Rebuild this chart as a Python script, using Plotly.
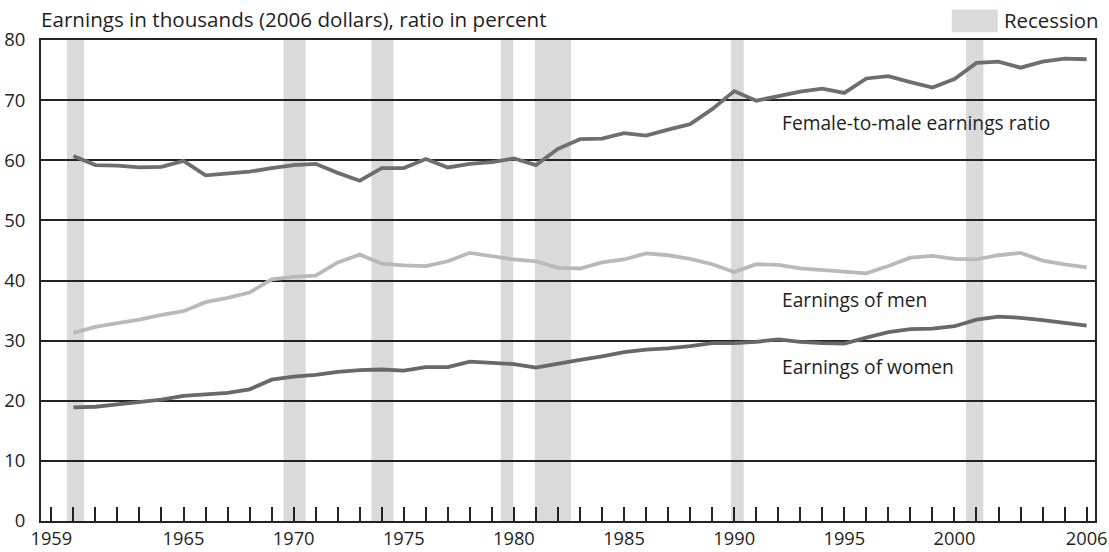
import plotly.graph_objects as go

# ---------------- data ----------------
years = list(range(1960, 2007))

ratio = [60.7, 59.2, 59.1, 58.8, 58.9, 59.9, 57.5, 57.8, 58.1, 58.7, 59.2, 59.4,
         57.9, 56.6, 58.7, 58.7, 60.2, 58.8, 59.4, 59.7, 60.3, 59.2, 61.9,
         63.5, 63.6, 64.5, 64.1, 65.1, 66.0, 68.5, 71.5, 69.9, 70.7, 71.4,
         71.9, 71.2, 73.6, 74.0, 73.0, 72.1, 73.5, 76.2, 76.4, 75.4, 76.4,
         76.9, 76.8]

men = [31.3, 32.3, 32.9, 33.5, 34.3, 34.9, 36.4, 37.1, 38.0, 40.2, 40.6, 40.8,
       43.0, 44.3, 42.8, 42.5, 42.4, 43.2, 44.6, 44.1, 43.5, 43.2, 42.1,
       42.0, 43.0, 43.5, 44.5, 44.2, 43.6, 42.7, 41.4, 42.7, 42.6, 42.0,
       41.7, 41.5, 41.2, 42.4, 43.8, 44.1, 43.6, 43.5, 44.2, 44.6, 43.3,
       42.7, 42.2]

women = [18.9, 19.0, 19.4, 19.8, 20.2, 20.8, 21.0, 21.3, 21.9, 23.5, 24.0, 24.3,
         24.8, 25.1, 25.2, 25.0, 25.6, 25.6, 26.5, 26.3, 26.1, 25.5, 26.2,
         26.8, 27.4, 28.1, 28.5, 28.7, 29.1, 29.6, 29.6, 29.8, 30.2, 29.8,
         29.6, 29.5, 30.5, 31.4, 31.9, 32.0, 32.4, 33.5, 34.0, 33.8, 33.4,
         33.0, 32.5]

recession_start = [1959.71, 1969.54, 1973.53, 1979.40, 1980.95, 1989.86, 2000.52]
recession_end = [1960.48, 1970.55, 1974.53, 1979.97, 1982.59, 1990.43, 2001.31]

x_tick_vals = [1959, 1965, 1970, 1975, 1980, 1985, 1990, 1995, 2000, 2006]
x_tick_text = ["1959", "1965", "1970", "1975", "1980", "1985", "1990", "1995", "2000", "2006"]
y_tick_vals = [0, 10, 20, 30, 40, 50, 60, 70, 80]

title_text = "Earnings in thousands (2006 dollars), ratio in percent"
legend_text = "Recession"
series_labels = ["Female-to-male earnings ratio", "Earnings of men", "Earnings of women"]

# ---------------- styles ----------------
FONT = "Open Sans"
TXT = "#1e1e1e"
BAND = "#dadada"

fig = go.Figure()

for s, e in zip(recession_start, recession_end):
    fig.add_shape(type="rect", xref="x", yref="paper", x0=s, x1=e, y0=0, y1=1,
                  fillcolor=BAND, line_width=0, layer="below")

fig.add_trace(go.Scatter(x=years, y=men, mode="lines",
                         line=dict(color="#b9b9b9", width=3.8), hoverinfo="skip"))
fig.add_trace(go.Scatter(x=years, y=women, mode="lines",
                         line=dict(color="#686868", width=3.8), hoverinfo="skip"))
fig.add_trace(go.Scatter(x=years, y=ratio, mode="lines",
                         line=dict(color="#6e6e6e", width=3.8), hoverinfo="skip"))

# series labels
label_pos = [(1992.17, 66.2), (1992.17, 36.8), (1992.17, 25.7)]
for txt, (lx, ly) in zip(series_labels, label_pos):
    fig.add_annotation(x=lx, y=ly, xref="x", yref="y", text=txt, showarrow=False,
                       xanchor="left", yanchor="middle", xshift=-2,
                       font=dict(family=FONT, size=19.2, color=TXT))

# title
fig.add_annotation(x=0, y=1, xref="paper", yref="paper", text=title_text,
                   showarrow=False, xanchor="left", yanchor="middle", yshift=21, xshift=-2,
                   font=dict(family=FONT, size=20.6, color=TXT))

# legend
fig.add_shape(type="rect", xref="paper", yref="paper", x0=0.8641, x1=0.9078,
              y0=1.0162, y1=1.0634, fillcolor=BAND, line_width=0)
fig.add_annotation(x=0.9137, y=1.0426, xref="paper", yref="paper", text=legend_text,
                   showarrow=False, xanchor="left", yanchor="middle", xshift=-2,
                   font=dict(family=FONT, size=20.4, color=TXT))

fig.update_layout(
    width=1109, height=552,
    margin=dict(l=41, r=14, t=40, b=31, autoexpand=False),
    paper_bgcolor="white", plot_bgcolor="white",
    showlegend=False,
    font=dict(family=FONT, size=18, color=TXT),
)

fig.update_xaxes(
    range=[1958.53, 2006.38], automargin=False,
    tickvals=x_tick_vals, ticktext=x_tick_text,
    ticks="inside", ticklen=14, tickwidth=2, tickcolor="#222",
    minor=dict(dtick=1, tick0=1959, ticks="inside", ticklen=14, tickwidth=2,
               tickcolor="#222", showgrid=False),
    showgrid=False, zeroline=False,
    showline=True, linecolor="#222", linewidth=2, mirror=True,
    tickfont=dict(family=FONT, size=18.3, color=TXT),
)

fig.update_yaxes(
    range=[0, 80], tickvals=y_tick_vals, automargin=False,
    ticks="", showgrid=True, gridcolor="#222", gridwidth=2,
    zeroline=False, showline=True, linecolor="#222", linewidth=2, mirror=True,
    ticklabelstandoff=10,
    tickfont=dict(family=FONT, size=18.5, color=TXT),
)

fig.write_html(
    "out.html",
    config={"responsive": False, "displayModeBar": False},
    post_script="document.body.style.margin='0';document.body.style.padding='0';"
                "document.documentElement.style.overflow='hidden';",
)
